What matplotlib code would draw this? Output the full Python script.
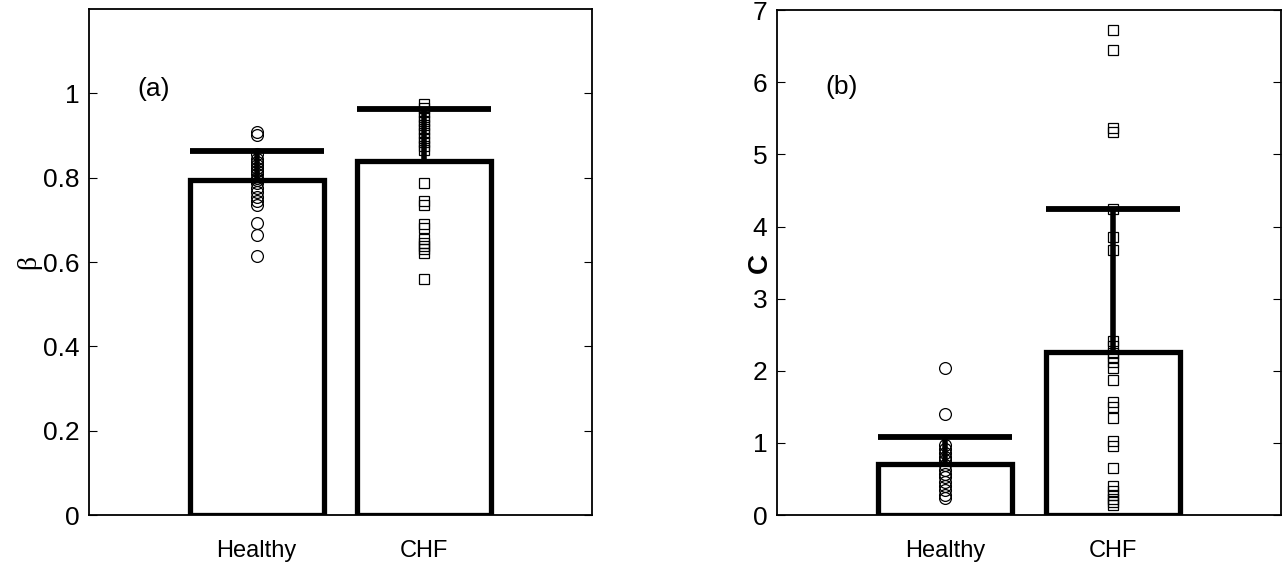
import matplotlib
matplotlib.use("Agg")
import matplotlib.pyplot as plt
import numpy as np

groups = ["Healthy", "CHF"]

# panel (a): beta exponent
beta_mean = [0.795, 0.840]
beta_std = [0.068, 0.123]
beta_healthy = [0.908, 0.902, 0.855, 0.845, 0.838, 0.830, 0.822, 0.815, 0.808, 0.800,
                0.795, 0.788, 0.775, 0.765, 0.755, 0.745, 0.735, 0.692, 0.665, 0.614]
beta_chf = [0.975, 0.965, 0.955, 0.945, 0.935, 0.925, 0.915, 0.905, 0.895, 0.885,
            0.875, 0.865, 0.787, 0.745, 0.735, 0.690, 0.680, 0.655, 0.645, 0.638,
            0.630, 0.622, 0.560]

# panel (b): C
c_mean = [0.71, 2.26]
c_std = [0.37, 1.98]
c_healthy = [2.04, 1.40, 0.97, 0.92, 0.86, 0.81, 0.76, 0.70, 0.63, 0.57,
             0.52, 0.46, 0.40, 0.35, 0.28, 0.23]
c_chf = [6.73, 6.45, 5.36, 5.31, 4.24, 3.86, 3.68, 2.41, 2.35, 2.25, 2.19, 2.12,
         2.04, 1.87, 1.57, 1.50, 1.35, 1.02, 0.95, 0.65, 0.40, 0.33, 0.28, 0.22,
         0.18, 0.14]

plt.rcParams['font.family'] = ['Liberation Sans', 'DejaVu Sans']
FS = 19

fig = plt.figure(figsize=(12.86, 5.66), dpi=100)
ax1 = fig.add_axes([0.0692, 0.0901, 0.3911, 0.894])
ax2 = fig.add_axes([0.6042, 0.0901, 0.3919, 0.892])


def panel(ax, mean, std, pts_h, pts_c, ylim, yticks, tag, tagy):
    x = np.arange(1, len(groups) + 1)
    w = 0.8
    ax.bar(x, mean, width=w, facecolor='white', edgecolor='black', linewidth=3.8, zorder=2)
    top = np.array(mean) + np.array(std)
    ax.vlines(x, mean, top, color='black', linewidth=4, zorder=3)
    ax.hlines(top, x - w / 2, x + w / 2, color='black', linewidth=4.2, zorder=3)
    ax.plot(np.full(len(pts_h), 1.0), pts_h, 'o', mfc='none', mec='black',
            ms=8.5, mew=0.9, zorder=4)
    ax.plot(np.full(len(pts_c), 2.0), pts_c, 's', mfc='none', mec='black',
            ms=6.5, mew=0.9, zorder=4)
    ax.set_xlim(0, 3)
    ax.set_ylim(*ylim)
    ax.set_xticks(x)
    ax.set_xticklabels(groups, fontsize=17)
    ax.set_yticks(yticks)
    ax.tick_params(axis='y', direction='in', right=True, length=6, labelsize=FS, pad=7)
    ax.tick_params(axis='x', length=0, pad=18)
    for s in ax.spines.values():
        s.set_linewidth(1.3)
    ax.text(0.29, tagy, tag, fontsize=FS, va='center')


panel(ax1, beta_mean, beta_std, beta_healthy, beta_chf, (0, 1.2),
      [0, 0.2, 0.4, 0.6, 0.8, 1], "(a)", 1.01)
ax1.set_yticklabels(["0", "0.2", "0.4", "0.6", "0.8", "1"])
ax1.set_ylabel("β", fontsize=20, family=['Liberation Serif', 'DejaVu Serif'])
ax1.yaxis.set_label_coords(-0.095, 0.5)

panel(ax2, c_mean, c_std, c_healthy, c_chf, (0, 7), range(0, 8), "(b)", 5.93)
ax2.set_ylabel("C", fontsize=20, fontweight='bold')
ax2.yaxis.set_label_coords(-0.008, 0.5)

fig.savefig("out.png", dpi=100)
